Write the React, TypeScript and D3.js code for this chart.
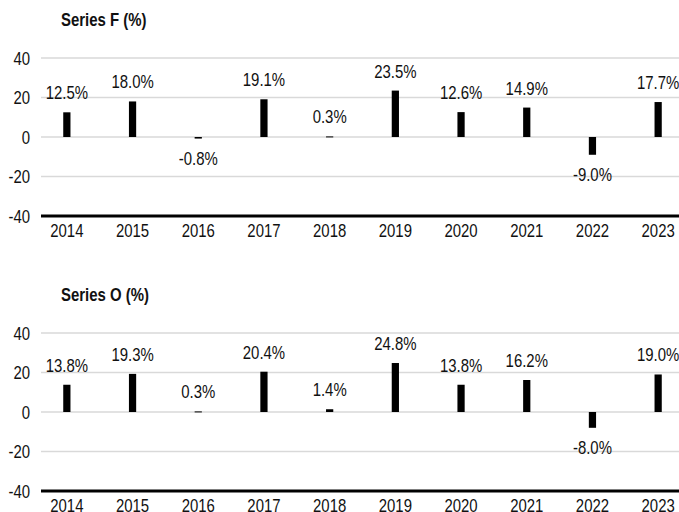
import React from 'react';
import { scaleBand, scaleLinear } from 'd3';

const years = ['2014', '2015', '2016', '2017', '2018', '2019', '2020', '2021', '2022', '2023'];
const seriesF = [12.5, 18.0, -0.8, 19.1, 0.3, 23.5, 12.6, 14.9, -9.0, 17.7];
const seriesO = [13.8, 19.3, 0.3, 20.4, 1.4, 24.8, 13.8, 16.2, -8.0, 19.0];
const yTicks = [40, 20, 0, -20, -40];

const FONT = '"Liberation Sans", Arial, sans-serif';

// condensed text: the original uses a narrow face, so squeeze horizontally
const T = ({ x, y, anchor = 'start', bold = false, size = 18, children }: any) => (
    <text
        transform={`translate(${x},${y}) scale(0.83,1)`}
        textAnchor={anchor}
        fontFamily={FONT}
        fontWeight={bold ? 'bold' : 'normal'}
        fontSize={size}
        fill="#111"
    >
        {children}
    </text>
);

const Panel = ({ title, values, top }: { title: string; values: number[]; top: number }) => {
    const x = scaleBand().domain(years).range([34, 691]).paddingInner(0.89).paddingOuter(0.445);
    const y = scaleLinear().domain([-40, 40]).range([top + 216, top + 58]);
    const bw = x.bandwidth();

    return (
        <g>
            <T x={61} y={top + 26} bold size={18}>{title}</T>
            {yTicks.map((t) => (
                <g key={t}>
                    {t !== -40 && (
                        <line x1={41} x2={679} y1={y(t)} y2={y(t)} stroke="#d9d9d9" strokeWidth={1.5} />
                    )}
                    <T x={30} y={y(t) + 6.5} anchor="end">{t}</T>
                </g>
            ))}
            {values.map((v, i) => {
                const cx = (x(years[i]) as number) + bw / 2;
                const y0 = y(0);
                const y1 = y(v);
                return (
                    <g key={years[i]}>
                        <rect x={cx - bw / 2} y={Math.min(y0, y1)} width={bw} height={Math.max(Math.abs(y1 - y0), 1)} fill="#000" />
                        <T x={cx} y={v >= 0 ? y1 - 13 : y1 + 26} anchor="middle">
                            {v.toFixed(1) + '%'}
                        </T>
                        <T x={cx} y={top + 237} anchor="middle">{years[i]}</T>
                    </g>
                );
            })}
            <line x1={41} x2={679} y1={y(-40)} y2={y(-40)} stroke="#000" strokeWidth={3} />
        </g>
    );
};

const App = () => {
    return (
        <svg width={679} height={512} style={{ position: 'absolute', left: 0, top: 0, background: '#fff' }}>
            <Panel title="Series F (%)" values={seriesF} top={0} />
            <Panel title="Series O (%)" values={seriesO} top={275} />
        </svg>
    );
};

export default App;
